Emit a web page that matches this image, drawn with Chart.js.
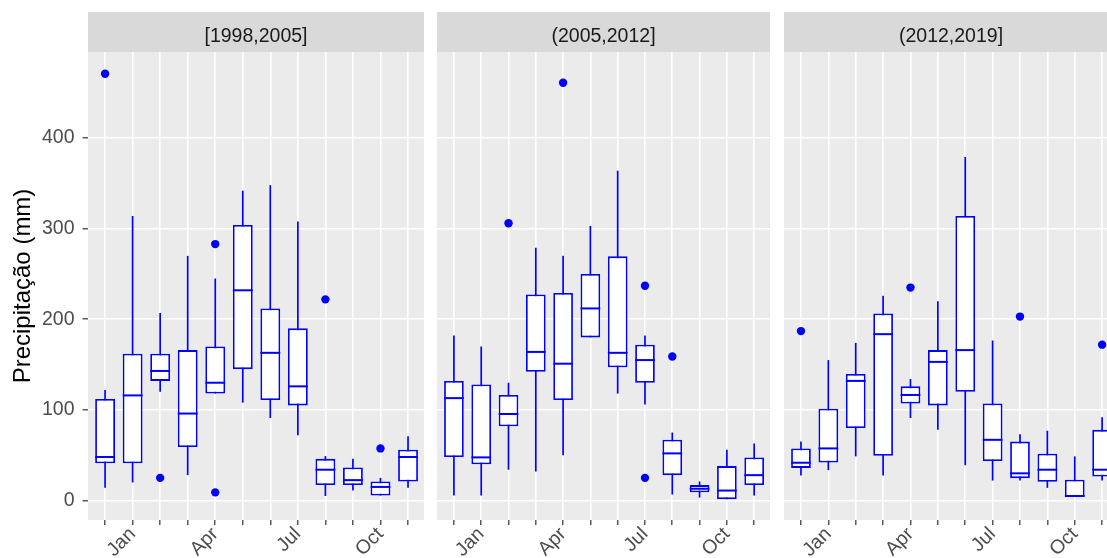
<!DOCTYPE html>
<html lang="pt">
<head>
<meta charset="UTF-8">
<title>Precipitação mensal por período</title>
<script src="https://cdn.jsdelivr.net/npm/chart.js"></script>
<style>
  html, body { margin: 0; padding: 0; background: #fff; overflow: hidden; }
  #wrap { position: relative; width: 1107px; height: 558px; overflow: hidden; }
  canvas { position: absolute; top: 0; }
</style>
</head>
<body>
<div id="wrap">
  <canvas id="p1" width="424" height="558" style="left:0px"></canvas>
  <canvas id="p2" width="333" height="558" style="left:437px"></canvas>
  <canvas id="p3" width="334" height="558" style="left:784px"></canvas>
</div>
<script>
// tick labels on the month axis (ticks at every month, label every quarter)
const monthTicks = ['', 'Jan', '', '', 'Apr', '', '', 'Jul', '', '', 'Oct', ''];
const yTicks = [0, 100, 200, 300, 400];
const periods = ['[1998,2005]', '(2005,2012]', '(2012,2019]'];

// [1998,2005]
const lo1  = [14, 20, 120, 28, 118, 108, 91, 72, 5, 11, 5.5, 14];
const q1_1 = [41, 41, 132, 59, 118, 145, 111, 105, 17, 17, 5.5, 21];
const med1 = [48, 116, 143, 96, 130, 232, 163, 126, 34, 22.5, 15, 48];
const q3_1 = [112, 162, 162, 166, 170, 304, 212, 190, 46, 36.5, 21, 56];
const hi1  = [122, 314, 207, 270, 245, 342, 348, 308, 49, 46, 25, 71];
const out1 = [[0, 471], [2, 25], [4, 283], [4, 9], [8, 222], [10, 57.5]];

// (2005,2012]
const lo2  = [5.5, 5.5, 34, 32, 50, 180, 118, 106, 6.6, 3.3, 1.5, 5.5];
const q1_2 = [48, 40, 82, 142, 111, 180, 147, 130, 28, 9, 1.5, 17];
const med2 = [113, 47.6, 95.5, 164, 151, 212, 163, 155, 52, 13, 11, 28];
const q3_2 = [132, 128, 116.5, 227.5, 229, 250, 269.5, 172, 67, 17, 38, 47.6];
const hi2  = [182, 170, 130, 279, 270, 303, 364, 182, 75, 21, 56, 63];
const out2 = [[2, 306], [4, 461], [7, 237], [7, 25], [8, 159]];

// (2012,2019]
const lo3  = [27.6, 33.5, 48.7, 27.6, 91, 78, 39, 22, 22, 14, 4, 22];
const q1_3 = [36, 42, 80, 49.4, 107, 105, 120, 43.5, 24.7, 20.6, 4, 26.5];
const med3 = [41.7, 57.5, 132, 183.6, 116.5, 153, 166, 67, 30, 34, 5, 34];
const q3_3 = [57.5, 101.4, 139.7, 206.5, 126, 166, 314, 107, 65, 51.6, 23, 78];
const hi3  = [65, 155, 174, 226, 134, 220, 379, 176.6, 73, 77, 48.7, 92];
const out3 = [[0, 187], [4, 235], [8, 203], [11, 172]];

const BLUE = '#0000FF';
const FONT = 'Liberation Sans, Arial, sans-serif';

// grey panel + strip behind everything
const panelBg = {
  id: 'panelBg',
  beforeDraw(chart) {
    const ctx = chart.ctx, a = chart.chartArea, t = chart.titleBlock;
    ctx.save();
    ctx.fillStyle = '#EBEBEB';
    ctx.fillRect(a.left, a.top, a.right - a.left, a.bottom - a.top);
    if (t) {
      ctx.fillStyle = '#D9D9D9';
      ctx.fillRect(a.left, t.top, a.right - a.left, t.height);
    }
    ctx.restore();
  }
};

// median line across each box
const medians = {
  id: 'medians',
  afterDatasetsDraw(chart) {
    const ds = chart.data.datasets[1];
    const meta = chart.getDatasetMeta(1);
    const y = chart.scales.y;
    const ctx = chart.ctx;
    ctx.save();
    ctx.strokeStyle = BLUE;
    ctx.lineWidth = 2;
    meta.data.forEach((bar, i) => {
      const py = y.getPixelForValue(ds.medians[i]);
      ctx.beginPath();
      ctx.moveTo(bar.x - bar.width / 2, py);
      ctx.lineTo(bar.x + bar.width / 2, py);
      ctx.stroke();
    });
    ctx.restore();
  }
};

function makePanel(id, title, lo, q1, med, q3, hi, out, showY) {
  const idx = monthTicks.map((_, i) => i);
  return new Chart(document.getElementById(id), {
    type: 'bar',
    data: {
      datasets: [
        {
          type: 'scatter',
          data: out.map(o => ({ x: o[0], y: o[1] })),
          pointRadius: 4.2,
          pointBorderWidth: 0,
          backgroundColor: BLUE,
          order: 0
        },
        {
          data: idx.map(i => ({ x: i, y: [q1[i], q3[i]] })),
          medians: med,
          backgroundColor: '#FFFFFF',
          borderColor: BLUE,
          borderWidth: 1.8,
          borderSkipped: false,
          grouped: false,
          barPercentage: 0.72,
          categoryPercentage: 1,
          order: 1
        },
        {
          data: idx.map(i => ({ x: i, y: [lo[i], hi[i]] })),
          backgroundColor: BLUE,
          borderWidth: 0,
          grouped: false,
          maxBarThickness: 1.7,
          order: 2
        }
      ]
    },
    options: {
      responsive: false,
      animation: false,
      events: [],
      layout: { autoPadding: false, padding: { top: 12, left: 0, right: 0, bottom: 0 } },
      plugins: {
        legend: { display: false },
        tooltip: { enabled: false },
        title: {
          display: true,
          text: title,
          color: '#1A1A1A',
          fullSize: false,
          font: { family: FONT, size: 19.5, weight: 'normal' },
          padding: { top: 13, bottom: 3.6 }
        }
      },
      scales: {
        x: {
          type: 'linear',
          offset: false,
          min: -0.62,
          max: 11.58,
          afterBuildTicks: s => { s.ticks = idx.map(i => ({ value: i })); },
          afterFit: s => { s.height = 38; s.paddingLeft = 0; s.paddingRight = 0; },
          border: { display: false },
          grid: { offset: false, color: '#FFFFFF', lineWidth: 1.6, drawTicks: true, tickLength: 5, tickColor: '#333333', tickWidth: 1.2 },
          ticks: {
            autoSkip: false,
            minRotation: 45,
            maxRotation: 45,
            padding: 2,
            color: '#4D4D4D',
            font: { family: FONT, size: 19.5, lineHeight: 0.6 },
            callback: v => monthTicks[Math.round(v)]
          }
        },
        y: {
          min: -21.5,
          max: 495,
          afterBuildTicks: s => { s.ticks = yTicks.map(v => ({ value: v })); },
          afterFit: s => { s.width = showY ? 88 : 0; },
          border: { display: false },
          grid: { color: '#FFFFFF', lineWidth: 1.6, drawTicks: showY, tickLength: 5.5, tickColor: '#333333', tickWidth: 1.2 },
          ticks: {
            display: showY,
            padding: 8,
            color: '#4D4D4D',
            font: { family: FONT, size: 19.5 }
          },
          title: {
            display: showY,
            text: 'Precipitação (mm)',
            color: '#000000',
            font: { family: FONT, size: 24 },
            padding: { top: 9, bottom: 0 }
          }
        }
      }
    },
    plugins: [panelBg, medians]
  });
}

makePanel('p1', periods[0], lo1, q1_1, med1, q3_1, hi1, out1, true);
makePanel('p2', periods[1], lo2, q1_2, med2, q3_2, hi2, out2, false);
makePanel('p3', periods[2], lo3, q1_3, med3, q3_3, hi3, out3, false);
</script>
</body>
</html>
